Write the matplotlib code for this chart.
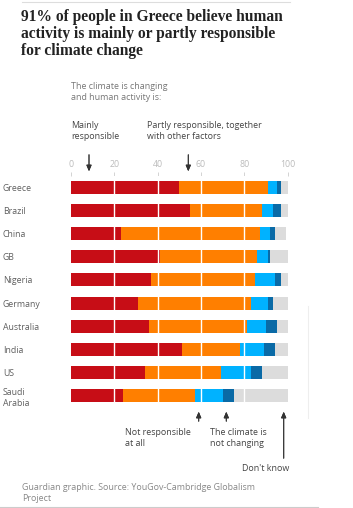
import numpy as np
import matplotlib.pyplot as plt

countries = ['Greece', 'Brazil', 'China', 'GB', 'Nigeria', 'Germany',
             'Australia', 'India', 'US', 'Saudi\nArabia']
mainly = [50, 55, 23, 41, 37, 31, 36, 51, 34, 24]
partly = [41, 33, 64, 45, 48, 52, 45, 27, 35, 33]
not_resp = [4, 5, 5, 5, 9, 8, 9, 11, 14, 13]
not_changing = [2, 4, 2, 1, 3, 2, 5, 5, 5, 5]
dont_know = [3, 3, 5, 8, 3, 7, 5, 6, 12, 25]
ticks = [0, 20, 40, 60, 80, 100]

series = [mainly, partly, not_resp, not_changing, dont_know]
colors = ['#c70d16', '#ff7f00', '#00b2ff', '#0a6aa6', '#dcdcdc']

W, H = 353, 508
fig = plt.figure(figsize=(W / 100, H / 100), dpi=100)
plt.rcParams['font.family'] = ['Open Sans', 'DejaVu Sans']


def fx(x):
    return x / W


def fy(y):
    return 1 - y / H


# axes placed in pixel terms
ax = fig.add_axes([fx(71), fy(407.5), fx(287.7) - fx(71), fy(175.5) - fy(407.5)])
y = np.arange(len(countries))
left = np.zeros(len(countries))
for vals, c in zip(series, colors):
    ax.barh(y, vals, left=left, height=0.56, color=c, linewidth=0)
    left += np.array(vals)

# white gridlines over bars
for t in ticks[1:-1]:
    ax.axvline(t, color='white', lw=1, zorder=3)

ax.set_xlim(0, 100)
ax.set_ylim(len(countries) - 0.5, -0.5)
ax.set_yticks(y)
ax.set_yticklabels(countries, fontsize=6.3, color='#5f5f5f', ha='left',
                   linespacing=1.25)
ax.tick_params(axis='y', length=0, pad=49)
ax.xaxis.tick_top()
ax.set_xticks(ticks)
ax.set_xticklabels([str(t) for t in ticks], fontsize=6.3, color='#bbbbbb')
ax.tick_params(axis='x', length=3, width=0.6, color='#cccccc', pad=1.5)
for s in ax.spines.values():
    s.set_visible(False)

grey = '#777777'
fs = 6.4
# title
fig.text(fx(21), fy(9), '91% of people in Greece believe human\nactivity is mainly or partly responsible\nfor climate change',
         fontsize=11.2, fontweight='bold', family='Liberation Serif', color='#222222',
         va='top', ha='left', linespacing=1.1)
fig.add_artist(plt.Line2D([fx(22), fx(290)], [fy(1.5), fy(1.5)], color='#dddddd', lw=0.8))

fig.text(fx(71), fy(82), 'The climate is changing\nand human activity is:', fontsize=fs,
         color=grey, va='top', linespacing=1.3)
fig.text(fx(71), fy(121), 'Mainly\nresponsible', fontsize=fs, color='#444444', va='top',
         linespacing=1.3)
fig.text(fx(147), fy(121), 'Partly responsible, together\nwith other factors', fontsize=fs,
         color='#444444', va='top', linespacing=1.3)

arrow = dict(arrowstyle='-|>,head_length=0.35,head_width=0.15', color='#333333', lw=0.7)
fig.add_artist(plt.annotate('', xy=(fx(89), fy(174)), xytext=(fx(89), fy(152)),
                            xycoords='figure fraction', arrowprops=arrow))
fig.add_artist(plt.annotate('', xy=(fx(188.3), fy(174)), xytext=(fx(188.3), fy(152)),
                            xycoords='figure fraction', arrowprops=arrow))
for x0, y1 in [(198.7, 424), (226.3, 424), (283.7, 461)]:
    fig.add_artist(plt.annotate('', xy=(fx(x0), fy(409)), xytext=(fx(x0), fy(y1)),
                                xycoords='figure fraction', arrowprops=arrow))

fig.text(fx(125), fy(428), 'Not responsible\nat all', fontsize=fs, color='#444444',
         va='top', linespacing=1.3)
fig.text(fx(210), fy(428), 'The climate is\nnot changing', fontsize=fs, color='#444444',
         va='top', linespacing=1.3)
fig.text(fx(289), fy(464), "Don't know", fontsize=fs, color='#444444', va='top', ha='right')

fig.text(fx(22), fy(483), 'Guardian graphic. Source: YouGov-Cambridge Globalism\nProject',
         fontsize=fs, color='#888888', va='top', linespacing=1.3)
fig.add_artist(plt.Line2D([fx(0), fx(318)], [fy(507), fy(507)], color='#cccccc', lw=0.8))
fig.add_artist(plt.Line2D([fx(308), fx(308)], [fy(306), fy(418)], color='#eeeeee', lw=0.8))

fig.savefig('out.png', dpi=100)
